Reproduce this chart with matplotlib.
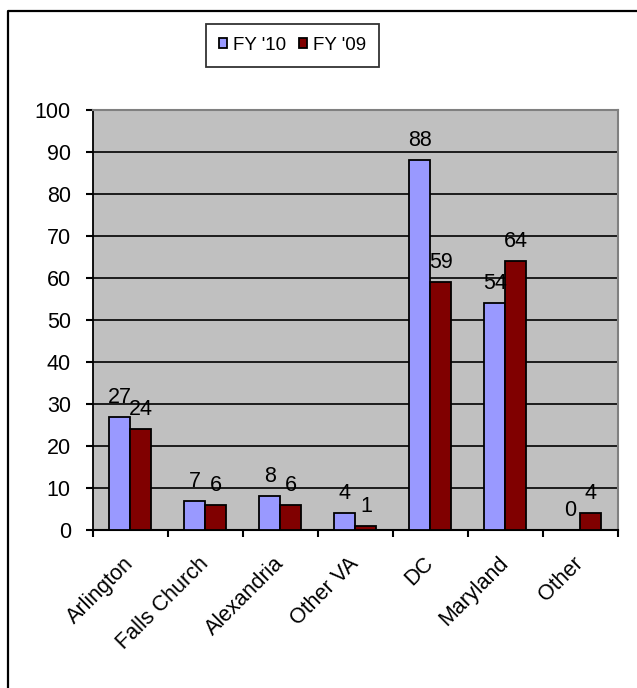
import matplotlib.pyplot as plt
import numpy as np
from matplotlib.lines import Line2D

plt.rcParams['font.family'] = ['Liberation Sans', 'DejaVu Sans']

regions = ['Arlington', 'Falls Church', 'Alexandria', 'Other VA', 'DC', 'Maryland', 'Other']
fy10 = [27, 7, 8, 4, 88, 54, 0]
fy09 = [24, 6, 6, 1, 59, 64, 4]
series_names = ["FY '10", "FY '09"]

fig = plt.figure(figsize=(6.37, 6.88), dpi=100)
ax = fig.add_axes([0.146, 0.2297, 0.824, 0.6105])

x = np.arange(len(regions))
w = 0.28
ax.set_facecolor('#C0C0C0')
b1 = ax.bar(x - w / 2, fy10, w, color='#9999FF', edgecolor='black', linewidth=1.3, zorder=3, label=series_names[0])
b2 = ax.bar(x + w / 2, fy09, w, color='#800000', edgecolor='black', linewidth=1.3, zorder=3, label=series_names[1])

# value labels above each bar
for bars, vals in ((b1, fy10), (b2, fy09)):
    for b, v in zip(bars, vals):
        ax.annotate(str(v), (b.get_x() + b.get_width() / 2, v), xytext=(0, 10),
                    textcoords='offset points', ha='center', va='baseline',
                    fontsize=15.5, zorder=4)

ax.set_xlim(-0.5, len(regions) - 0.5)
ax.set_ylim(0, 100)
ax.set_yticks(range(0, 101, 10))
ax.yaxis.grid(True, color='black', linewidth=1.2, zorder=1)
ax.set_axisbelow(True)

ax.set_xticks(x)
ax.set_xticklabels(regions, rotation=45, ha='right', va='center', rotation_mode='anchor')
ax.set_xticks(np.arange(-0.5, len(regions)), minor=True)
ax.tick_params(axis='x', which='major', length=0, pad=22, labelsize=15.5)
ax.tick_params(axis='x', which='minor', length=5, width=1.5, direction='out')
ax.tick_params(axis='y', length=5, width=1.5, labelsize=15.5, pad=11)

for side in ('top', 'right'):
    ax.spines[side].set_color('#808080')
    ax.spines[side].set_linewidth(1.5)
ax.spines['left'].set_color('black')
ax.spines['left'].set_linewidth(1.3)
ax.spines['bottom'].set_color('black')
ax.spines['bottom'].set_linewidth(1.5)

leg = fig.legend(loc='center', bbox_to_anchor=(0.459, 0.934), ncol=2, fontsize=13.5,
                 frameon=True, fancybox=False, edgecolor='black',
                 handlelength=0.45, handleheight=0.45, handletextpad=0.3,
                 columnspacing=0.7, borderpad=0.7, borderaxespad=0)
leg.get_frame().set_linewidth(1.3)

# outer border of the chart area
fig.add_artist(Line2D([0.0126, 0.0126, 1.0], [0.0, 0.984, 0.984],
                      transform=fig.transFigure, color='black', linewidth=1.6))

fig.savefig('out.png', dpi=100)
